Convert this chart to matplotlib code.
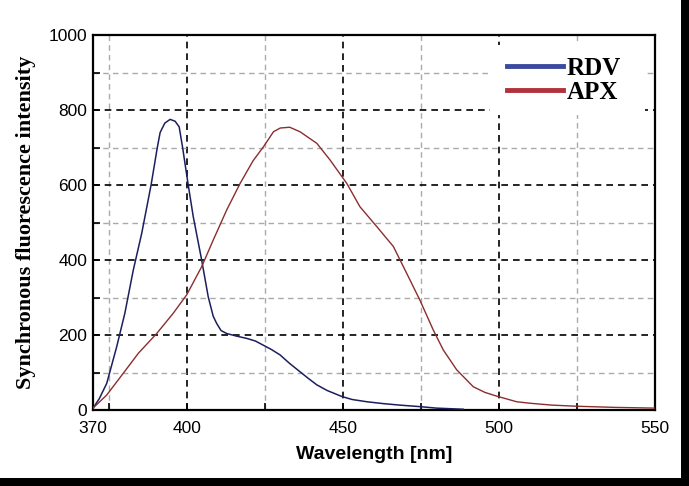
import matplotlib
matplotlib.use("Agg")
import matplotlib.pyplot as plt
from matplotlib.patches import Rectangle
from matplotlib.ticker import FixedLocator

rdv_wl = [370, 372, 374.4, 377.6, 380.2, 382.9, 385.6, 388.6, 390.6, 391.5, 393, 394.7,
          396.3, 397.6, 398.7, 400.5, 402.1, 404.8, 406.9, 408.5, 409.6, 411, 412.8,
          416, 419.2, 422, 424.5, 427, 429.9, 433, 436.3, 439, 441.7, 445, 449.7,
          453, 457.7, 463, 468.3, 474.7, 480, 488.6]
rdv_val = [5, 30, 71, 169, 258, 373, 471, 600, 700, 740, 765, 775,
           770, 755, 700, 600, 516, 400, 302, 250, 231, 212, 204,
           197, 191, 184, 173, 162, 147, 124, 102, 84, 67, 52, 36,
           28, 22, 17, 13, 9, 5, 2]

apx_wl = [370, 374.4, 379.7, 384.5, 390.4, 395.7, 400, 404.8, 408.5, 412.8, 417.1,
          421.3, 424.6, 427.8, 430, 433, 436.3, 441.7, 445.9, 451.3, 455.5, 460.9,
          466.2, 470.5, 474.7, 479, 482.2, 486.5, 491.8, 495.5, 499.3, 505.7, 510,
          517, 525, 537, 550]
apx_val = [5, 40, 98, 151, 204, 258, 307, 382, 453, 533, 604,
           665, 702, 742, 752, 754, 742, 711, 667, 604, 542, 489,
           436, 364, 293, 213, 160, 107, 62, 47, 37, 22, 18,
           13, 10, 7, 5]

x_tick_labels = [370, 400, 450, 500, 550]
y_ticks = [0, 200, 400, 600, 800, 1000]

fig = plt.figure(figsize=(6.89, 4.86), dpi=100, facecolor="white")
ax = fig.add_axes([93/689, 1 - 410/486, (655-93)/689, (410-35)/486])

narrow = ["Liberation Sans Narrow", "Liberation Sans", "DejaVu Sans"]

ax.plot(rdv_wl, rdv_val, color="#1c1f5e", lw=1.1, label="RDV", zorder=3)
ax.plot(apx_wl, apx_val, color="#8a2e2e", lw=1.0, label="APX", zorder=3)

ax.set_xlim(370, 550)
ax.set_ylim(0, 1000)
ax.xaxis.set_major_locator(FixedLocator(x_tick_labels))
ax.xaxis.set_minor_locator(FixedLocator([375, 425, 475, 525]))
ax.yaxis.set_major_locator(FixedLocator(y_ticks))
ax.yaxis.set_minor_locator(FixedLocator([100, 300, 500, 700, 900]))
ax.set_xticklabels([str(v) for v in x_tick_labels], family=narrow, fontsize=12.5)
ax.set_yticklabels([str(v) for v in y_ticks], family=narrow, fontsize=12.5)

ax.tick_params(which="both", direction="in", length=5, width=1.2, color="black",
               top=False, right=False)
ax.tick_params(axis="x", which="major", pad=8)
ax.tick_params(axis="y", which="major", pad=4)

ax.grid(which="major", color="black", linestyle=(0, (4, 3)), linewidth=1.2, zorder=1)
ax.grid(which="minor", color="#aaaaaa", linestyle=(0, (4, 3)), linewidth=1.0, zorder=1)
ax.set_axisbelow(True)

for s in ax.spines.values():
    s.set_linewidth(1.6)
    s.set_color("black")

ax.set_xlabel("Wavelength [nm]", family=narrow, fontweight="bold", fontsize=14, labelpad=7)
ax.set_ylabel("Synchronous fluorescence intensity", family="Liberation Serif",
              fontweight="bold", fontsize=16, labelpad=9)

# white legend background (covers gridlines as in the reference)
ax.add_patch(Rectangle((0.706, 0.787), 0.276, 0.186, transform=ax.transAxes,
                       facecolor="white", edgecolor="none", zorder=2))

h1, = ax.plot([], [], color="#3b4a9e", lw=3.5)
h2, = ax.plot([], [], color="#b0323c", lw=3.5)
leg = ax.legend([h1, h2], ["RDV", "APX"], loc="upper right",
                bbox_to_anchor=(0.975, 0.995),
                prop={"family": "Liberation Serif", "weight": "bold", "size": 18},
                frameon=False, handlelength=2.25, handletextpad=0.15,
                labelspacing=0.05, borderpad=0.3)
leg.set_zorder(5)

fig.patches.append(Rectangle((681/689, 0), 8/689, 1, transform=fig.transFigure,
                             facecolor="black", edgecolor="none"))
fig.patches.append(Rectangle((0, 0), 1, 8/486, transform=fig.transFigure,
                             facecolor="black", edgecolor="none"))

fig.savefig("out.png", dpi=100, facecolor="white")
